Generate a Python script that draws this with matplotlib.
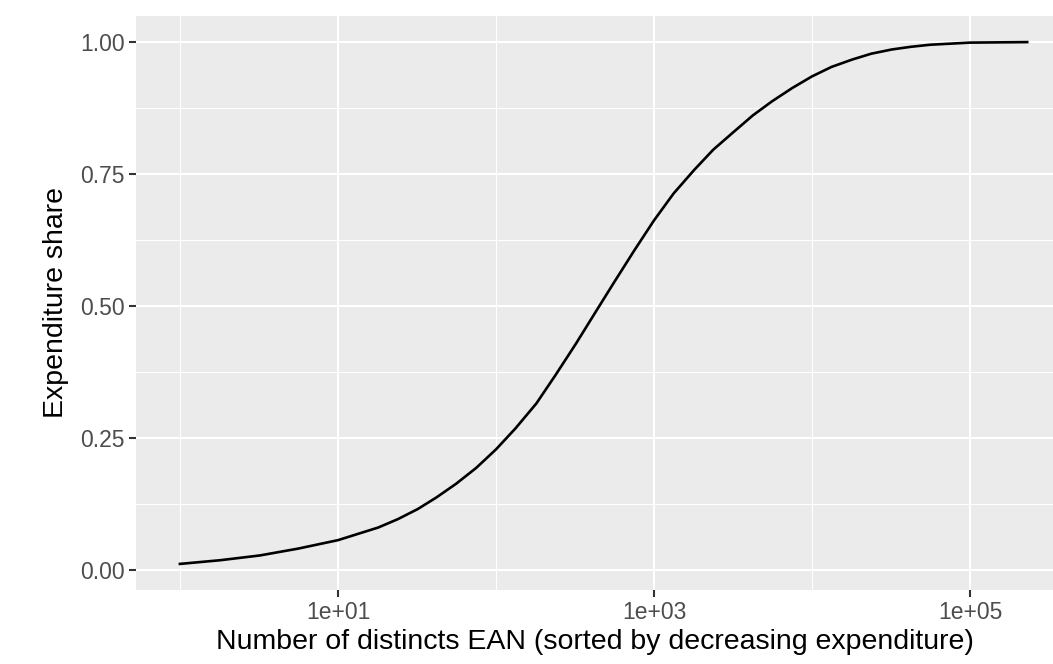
import matplotlib.pyplot as plt
import numpy as np

plt.rcParams["font.family"] = ["Liberation Sans", "DejaVu Sans"]

# cumulative expenditure share vs. number of distinct EAN
n_ean = [1, 1.8, 3.2, 5.6, 10, 18, 24, 32, 42, 56, 75, 100, 133, 180, 237,
         320, 422, 560, 750, 1000, 1330, 1800, 2370, 3200, 4220, 5600, 7500,
         10000, 13300, 18000, 23700, 32000, 42000, 56000, 100000, 230000]
share = [0.011, 0.018, 0.027, 0.040, 0.056, 0.080, 0.096, 0.115, 0.137, 0.163,
         0.193, 0.228, 0.268, 0.315, 0.368, 0.428, 0.486, 0.545, 0.605, 0.662,
         0.713, 0.758, 0.796, 0.830, 0.861, 0.888, 0.913, 0.935, 0.953, 0.967,
         0.978, 0.986, 0.991, 0.995, 0.999, 1.000]

x_breaks = [1e1, 1e3, 1e5]
x_labels = ["1e+01", "1e+03", "1e+05"]
x_minor = [1e0, 1e2, 1e4]
y_breaks = [0.0, 0.25, 0.5, 0.75, 1.0]
y_labels = ["0.00", "0.25", "0.50", "0.75", "1.00"]
y_minor = [0.125, 0.375, 0.625, 0.875]

W, H = 1053, 664
fig = plt.figure(figsize=(W / 100, H / 100), dpi=100)
ax = fig.add_axes([136 / W, (H - 590) / H, 1 - 136 / W, (590 - 16) / H])
ax.set_facecolor("#EBEBEB")
for s in ax.spines.values():
    s.set_visible(False)

ax.set_xscale("log")
ax.set_xlim(10 ** -0.278, 10 ** 5.525)
lo, hi = min(share), max(share)
pad = 0.05 * (hi - lo)
ax.set_ylim(lo - pad, hi + pad)

for v in x_minor:
    ax.axvline(v, color="white", lw=0.75, zorder=0)
for v in y_minor:
    ax.axhline(v, color="white", lw=0.75, zorder=0)
for v in x_breaks:
    ax.axvline(v, color="white", lw=1.5, zorder=0)
for v in y_breaks:
    ax.axhline(v, color="white", lw=1.5, zorder=0)

ax.plot(n_ean, share, color="black", lw=1.9, zorder=3, solid_joinstyle="round")

ax.set_xticks(x_breaks)
ax.set_xticklabels(x_labels)
ax.set_xticks([], minor=True)
ax.set_yticks(y_breaks)
ax.set_yticklabels(y_labels)
ax.tick_params(axis="both", which="major", length=5.2, width=1.5, color="#333333",
               labelcolor="#4D4D4D", labelsize=16.5, pad=3)

ax.set_xlabel("Number of distincts EAN (sorted by decreasing expenditure)",
              fontsize=20.5, color="black", labelpad=3)
ax.set_ylabel("Expenditure share", fontsize=20.5, color="black", labelpad=8)

fig.savefig("out.png", dpi=100)
